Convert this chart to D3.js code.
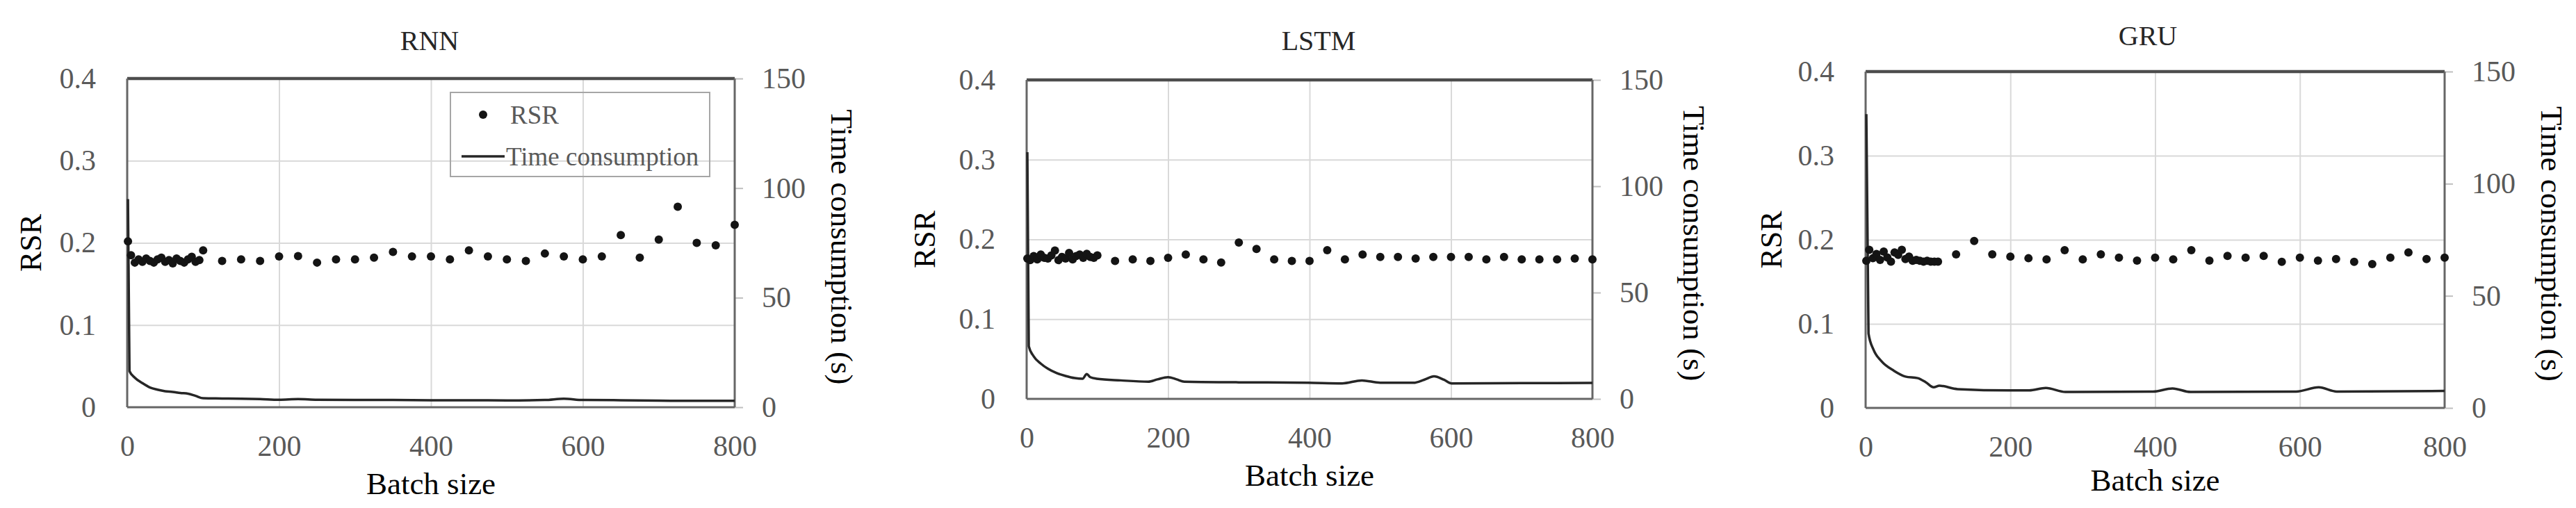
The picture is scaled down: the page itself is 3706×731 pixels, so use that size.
<!DOCTYPE html>
<html>
<head>
<meta charset="utf-8">
<script src="https://cdn.jsdelivr.net/npm/d3@7"></script>
<style>
  body { margin: 0; background: #fff; }
  svg text { font-family: "Liberation Serif", "Times New Roman", Times, "DejaVu Serif", serif; }
</style>
</head>
<body>
<div id="chart"></div>
<script>
// batch sizes of the RSR points
const batchSizes = [1, 5, 10, 15, 20, 25, 30, 35, 40, 45, 50, 55, 60, 65, 70, 75, 80, 85, 90, 95,
  100, 125, 150, 175, 200, 225, 250, 275, 300, 325, 350, 375, 400, 425, 450, 475, 500, 525, 550, 575,
  600, 625, 650, 675, 700, 725, 750, 775, 800];

const rsrRNN = [0.202, 0.185, 0.176, 0.180, 0.177, 0.181, 0.178, 0.176, 0.180, 0.182, 0.177, 0.179, 0.175, 0.181, 0.178, 0.176, 0.180, 0.183, 0.177, 0.179,
  0.191, 0.178, 0.180, 0.178, 0.1835, 0.184, 0.176, 0.180, 0.180, 0.182, 0.189, 0.1835, 0.1835, 0.180, 0.191, 0.1835, 0.180, 0.178, 0.187, 0.1835,
  0.180, 0.1835, 0.2095, 0.182, 0.204, 0.244, 0.200, 0.197, 0.222];
const rsrLSTM = [0.176, 0.174, 0.179, 0.175, 0.181, 0.177, 0.176, 0.180, 0.186, 0.174, 0.178, 0.176, 0.183, 0.175, 0.179, 0.181, 0.177, 0.182, 0.178, 0.177,
  0.180, 0.173, 0.175, 0.173, 0.177, 0.181, 0.175, 0.171, 0.196, 0.188, 0.175, 0.173, 0.173, 0.1865, 0.175, 0.181, 0.178, 0.178, 0.176, 0.178,
  0.178, 0.178, 0.175, 0.178, 0.175, 0.175, 0.175, 0.176, 0.175];
const rsrGRU = [0.175, 0.188, 0.178, 0.183, 0.176, 0.186, 0.179, 0.174, 0.185, 0.182, 0.188, 0.177, 0.180, 0.175, 0.176, 0.175, 0.174, 0.175, 0.174, 0.174,
  0.174, 0.1826, 0.1986, 0.1826, 0.180, 0.178, 0.1766, 0.1876, 0.1766, 0.1826, 0.1788, 0.1752, 0.1788, 0.1766, 0.1876, 0.1752, 0.1807, 0.1788, 0.1807, 0.1738,
  0.1788, 0.1752, 0.1771, 0.1738, 0.1711, 0.1788, 0.1849, 0.1771, 0.1788];

// time consumption curves (s)
const timeBatchRNN = [1, 3, 10, 20, 30, 40, 50, 60, 70, 80, 90, 100, 125, 150, 175, 200, 225, 250, 300, 350, 400, 450, 500, 550, 575, 600, 650, 700, 750, 800];
const timeRNN = [95, 16.5, 13.5, 11.0, 9.0, 8.0, 7.3, 7.0, 6.5, 6.2, 5.2, 4.1, 4.0, 3.9, 3.7, 3.4, 3.7, 3.4, 3.3, 3.3, 3.2, 3.2, 3.1, 3.3, 3.9, 3.3, 3.2, 3.0, 2.9, 2.9];
const timeBatchLSTM = [1, 3, 10, 20, 30, 42, 55, 68, 79, 85, 90, 99, 133, 172, 185, 200, 212, 223, 300, 398, 446, 474, 500, 547, 562, 576, 590, 601, 700, 800];
const timeLSTM = [116, 24.8, 20, 16.6, 14.2, 12.2, 10.8, 9.8, 9.5, 11.7, 10.2, 9.5, 8.7, 8.1, 9.2, 10.2, 9.2, 8.1, 7.8, 7.6, 7.3, 8.7, 7.6, 7.6, 9.0, 10.6, 9.0, 7.3, 7.4, 7.5];
const timeBatchGRU = [1, 4, 11, 22, 39, 55, 72, 83, 94, 102, 127, 199, 226, 249, 276, 397, 424, 449, 595, 626, 651, 800];
const timeGRU = [131, 33.2, 25.9, 20.8, 16.6, 14.0, 13.3, 11.5, 9.2, 9.9, 8.4, 7.8, 7.8, 8.9, 7.1, 7.3, 8.7, 7.1, 7.3, 9.2, 7.3, 7.6];

const xTicks = [0, 200, 400, 600, 800];
const rsrTicks = [0, 0.1, 0.2, 0.3, 0.4];
const timeTicks = [0, 50, 100, 150];

const panels = [
  {title: "RNN", rsr: rsrRNN, tb: timeBatchRNN, t: timeRNN, legend: true,
   left: 183, right: 1057, top: 113, bottom: 586, titleX: 618, titleY: 58, yLabX: 44, rLabX: 1212, xLabY: 695},
  {title: "LSTM", rsr: rsrLSTM, tb: timeBatchLSTM, t: timeLSTM, legend: false,
   left: 1477, right: 2291, top: 115, bottom: 574, titleX: 1897, titleY: 58, yLabX: 1330, rLabX: 2438, xLabY: 683},
  {title: "GRU", rsr: rsrGRU, tb: timeBatchGRU, t: timeGRU, legend: false,
   left: 2684, right: 3517, top: 103, bottom: 587, titleX: 3090, titleY: 51, yLabX: 2548, rLabX: 3672, xLabY: 690}
];

const W = 3706, H = 731;
const serif = "Liberation Serif, Times New Roman, Times, DejaVu Serif, serif";
const svg = d3.select("#chart").append("svg")
  .attr("width", W).attr("height", H)
  .attr("font-family", serif);
svg.append("rect").attr("width", W).attr("height", H).attr("fill", "#fff");

const grey = "#595959";

panels.forEach(p => {
  const g = svg.append("g");
  const x = d3.scaleLinear().domain([0, 800]).range([p.left, p.right]);
  const y = d3.scaleLinear().domain([0, 0.4]).range([p.bottom, p.top]);
  const y2 = d3.scaleLinear().domain([0, 150]).range([p.bottom, p.top]);
  const h = p.bottom - p.top, w = p.right - p.left;

  // gridlines
  g.append("g")
    .attr("transform", "translate(" + p.left + ",0)")
    .call(d3.axisLeft(y).tickValues([0.1, 0.2, 0.3]).tickSize(-w).tickFormat(""))
    .call(s => s.select(".domain").remove())
    .selectAll("line").attr("stroke", "#d9d9d9").attr("stroke-width", 2);
  g.append("g")
    .attr("transform", "translate(0," + p.bottom + ")")
    .call(d3.axisBottom(x).tickValues([200, 400, 600]).tickSize(-h).tickFormat(""))
    .call(s => s.select(".domain").remove())
    .selectAll("line").attr("stroke", "#d9d9d9").attr("stroke-width", 2);

  // left axis
  const ax = g.append("g")
    .attr("transform", "translate(" + p.left + ",0)")
    .call(d3.axisLeft(y).tickValues(rsrTicks).tickSize(0).tickPadding(45).tickFormat(d => d === 0 ? "0" : d3.format(".1f")(d)))
    .attr("font-family", serif);
  ax.select(".domain").remove();
  ax.selectAll("text").attr("font-size", 42).attr("fill", grey);

  // right axis
  const ar = g.append("g")
    .attr("transform", "translate(" + p.right + ",0)")
    .call(d3.axisRight(y2).tickValues(timeTicks).tickSize(12).tickPadding(27))
    .attr("font-family", serif);
  ar.select(".domain").remove();
  ar.selectAll("line").attr("stroke", "#bfbfbf").attr("stroke-width", 2);
  ar.selectAll("text").attr("font-size", 42).attr("fill", grey);

  // bottom axis
  const ab = g.append("g")
    .attr("transform", "translate(0," + p.bottom + ")")
    .call(d3.axisBottom(x).tickValues(xTicks).tickSize(0))
    .attr("font-family", serif);
  ab.select(".domain").remove();
  ab.selectAll("text").attr("y", 55).attr("dy", "0.35em")
    .attr("font-size", 42).attr("fill", grey);

  // frame
  g.append("line").attr("x1", p.left).attr("x2", p.right).attr("y1", p.top).attr("y2", p.top)
    .attr("stroke", "#4d4d4d").attr("stroke-width", 4.5);
  g.append("line").attr("x1", p.left).attr("x2", p.right).attr("y1", p.bottom).attr("y2", p.bottom)
    .attr("stroke", "#666").attr("stroke-width", 3);
  g.append("line").attr("x1", p.left).attr("x2", p.left).attr("y1", p.top).attr("y2", p.bottom)
    .attr("stroke", "#666").attr("stroke-width", 3);
  g.append("line").attr("x1", p.right).attr("x2", p.right).attr("y1", p.top).attr("y2", p.bottom)
    .attr("stroke", "#666").attr("stroke-width", 3);

  // time line
  const tData = p.tb.map((b, i) => ({b: b, v: p.t[i]}));
  const line = d3.line()
    .x(d => x(d.b))
    .y(d => y2(d.v))
    .curve(d3.curveMonotoneX);
  g.append("path")
    .datum(tData)
    .attr("d", line)
    .attr("fill", "none")
    .attr("stroke", "#262626")
    .attr("stroke-width", 3.5);

  // RSR dots
  g.selectAll("circle.dot")
    .data(batchSizes.map((b, i) => ({b: b, v: p.rsr[i]})))
    .join("circle")
    .attr("class", "dot")
    .attr("cx", d => x(d.b))
    .attr("cy", d => y(d.v))
    .attr("r", 6)
    .attr("fill", "#141414");

  // titles
  g.append("text").attr("x", p.titleX).attr("y", p.titleY).attr("dy", "0.35em")
    .attr("text-anchor", "middle").attr("font-size", 40).attr("fill", "#262626")
    .text(p.title);
  g.append("text").attr("x", (p.left + p.right) / 2).attr("y", p.xLabY).attr("dy", "0.35em")
    .attr("text-anchor", "middle").attr("font-size", 45).attr("fill", "#000")
    .text("Batch size");
  g.append("text")
    .attr("transform", "translate(" + p.yLabX + "," + (p.top + p.bottom) / 2 + ") rotate(-90)")
    .attr("dy", "0.35em").attr("text-anchor", "middle").attr("font-size", 44).attr("fill", "#000")
    .text("RSR");
  g.append("text")
    .attr("transform", "translate(" + p.rLabX + "," + ((p.top + p.bottom) / 2 + 6) + ") rotate(90)")
    .attr("dy", "0.35em").attr("text-anchor", "middle").attr("font-size", 45).attr("fill", "#000")
    .text("Time consumption (s)");

  // legend
  if (p.legend) {
    const lg = g.append("g").attr("transform", "translate(648,133)");
    lg.append("rect").attr("width", 373).attr("height", 121)
      .attr("fill", "none").attr("stroke", "#a6a6a6").attr("stroke-width", 2);
    lg.append("circle").attr("cx", 47).attr("cy", 32).attr("r", 6).attr("fill", "#141414");
    lg.append("text").attr("x", 86).attr("y", 32).attr("dy", "0.35em")
      .attr("font-size", 37).attr("fill", grey).text("RSR");
    lg.append("line").attr("x1", 16).attr("x2", 78).attr("y1", 92).attr("y2", 92)
      .attr("stroke", "#262626").attr("stroke-width", 3.5);
    lg.append("text").attr("x", 80).attr("y", 92).attr("dy", "0.35em")
      .attr("font-size", 37).attr("fill", grey).text("Time consumption");
  }
});
</script>
</body>
</html>
